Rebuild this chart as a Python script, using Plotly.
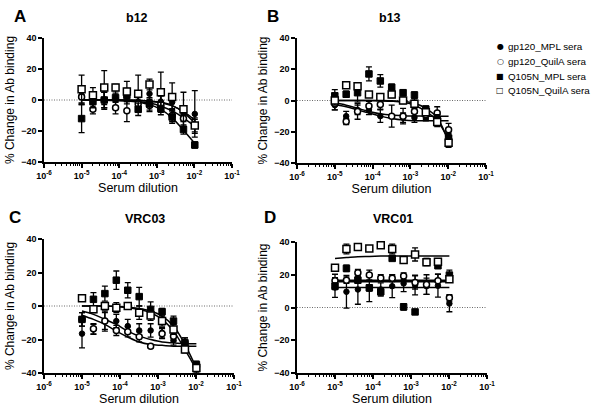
import plotly.graph_objects as go

# ---------------- data ----------------
dilutions = [1e-5, 2e-5, 4e-5, 8e-5, 1.6e-4, 3.2e-4, 6.4e-4, 1.28e-3, 2.56e-3, 5.12e-3, 1.024e-2]
series_names = ["gp120_MPL sera", "gp120_QuilA sera", "Q105N_MPL sera", "Q105N_QuilA sera"]
legend_glyphs = ["\u25CF", "\u25CB", "\u25A0", "\u25A1"]
panel_titles = ["b12", "b13", "VRC03", "VRC01"]
panel_letters = ["A", "B", "C", "D"]
x_tick_vals = [1e-6, 1e-5, 1e-4, 1e-3, 1e-2, 1e-1]
x_tick_text = ["10<sup>-6</sup>", "10<sup>-5</sup>", "10<sup>-4</sup>", "10<sup>-3</sup>", "10<sup>-2</sup>", "10<sup>-1</sup>"]
y_tick_vals = [-40, -20, 0, 20, 40]

# b12
b12_gp120_mpl = [3, -1, 0, 1, 2.5, -1, 4, -1, -1.5, -9, -9]
b12_gp120_mpl_err = [5, 4, 6, 5, 5, 4, 5, 5, 4, 5, 15]
b12_gp120_quila = [2, -6, 0, -5, -7, -2.5, -3.5, -2.5, -10, -12, -16.5]
b12_gp120_quila_err = [5, 3, 5, 4, 7, 4, 4, 5, 4, 5, 5]
b12_q105n_mpl = [-12, -1, 0, 1.5, 3, -6, -2.5, -5.5, -11, -19, -29]
b12_q105n_mpl_err = [9, 4, 5, 3, 4, 4, 4, 4, 4, 3, 2]
b12_q105n_quila = [7, 3, 8, 8, 5.5, 4, 10, 5, 2, -6, -16.5]
b12_q105n_quila_err = [9, 5, 11, 2, 6.5, 12, 3.5, 13, 9, 11, 4]
b12_fit_gp120_mpl = [0, 0, 0, 0, 0, -0.3, -0.8, -1.8, -3.8, -7.5, -13]
b12_fit_gp120_quila = [0, 0, 0, -0.2, -0.5, -1, -2, -4, -7, -11.5, -17]
b12_fit_q105n_mpl = [0, 0, -0.1, -0.3, -0.7, -1.5, -3, -6, -11.5, -19.5, -28]
b12_fit_q105n_quila = [0, 0, 0, 0, 0, -0.2, -0.6, -1.5, -3.5, -8, -15]

# b13
b13_gp120_mpl = [-3, -10, -6, -6, -10, 7, -11, -11, -11, -12, -23]
b13_gp120_mpl_err = [3, 3, 3, 3, 4, 3, 3, 3, 2, 3, 3]
b13_gp120_quila = [-2, -13.5, -7, -3.5, -2.6, -10, -10, -7, -9, -8, -18.7]
b13_gp120_quila_err = [4, 2, 5, 3, 3, 7, 5, 3, 3, 4, 4]
b13_q105n_mpl = [3, 4, 5, 17, 12.5, 8.5, 5, 3.5, -5.5, -12, -24]
b13_q105n_mpl_err = [4, 2, 6, 4.5, 4, 2, 2, 2, 2, 3, 3]
b13_q105n_quila = [0, 9.8, 9.2, 3.9, 2.2, 3.9, 0, -2, -7.5, -13.7, -27]
b13_q105n_quila_err = [3, 1, 1.5, 1, 1, 2, 2, 3, 2, 3, 3]
b13_fit_gp120_mpl = [-2.5, -4, -6, -8, -10, -11.5, -12.5, -13, -13, -13, -13]
b13_fit_gp120_quila = [-1.5, -3, -5, -7, -8.5, -9.3, -9.7, -9.9, -10, -10, -10]
b13_fit_q105n_mpl = [0, 0, 0, 0, -0.2, -0.5, -1.2, -3, -7, -13, -25]
b13_fit_q105n_quila = [0, 0, 0, 0, 0, -0.2, -0.6, -1.8, -5, -11, -27]

# VRC03
vrc03_gp120_mpl = [-16.5, -14, -9, -9, -12, -14.6, -14.6, -16, -20.4, -24.4, -37]
vrc03_gp120_mpl_err = [8.5, 3, 5, 4, 4, 4, 4, 3, 3, 3, 3]
vrc03_gp120_quila = [-8, -13.6, -9, -14.6, -15.4, -18.4, -24, -16.5, -18, -22, -36]
vrc03_gp120_quila_err = [4, 3, 6, 3, 3, 3, 1, 3, 3, 3, 2]
vrc03_q105n_mpl = [-8, 4, 7.4, 15.4, 9.4, 5.6, -2, -3.4, -9, -22, -35]
vrc03_q105n_mpl_err = [4, 4, 4.5, 5.5, 4.5, 5.5, 4.5, 2, 3, 3, 2]
vrc03_q105n_quila = [4.6, -2, 0, -1, 0, -4, -5.6, -9, -14, -26, -37]
vrc03_q105n_quila_err = [1, 2, 2, 3, 1, 4, 3, 3, 3, 2, 1]
vrc03_fit_gp120_mpl = [-3, -5, -8, -11, -15, -18, -20, -21.5, -22, -22.5, -22.5]
vrc03_fit_gp120_quila = [-5.5, -8, -11, -15, -18.5, -21.5, -23, -23.5, -24, -24, -24]
vrc03_fit_q105n_mpl = [0, 0, 0, -0.3, -0.8, -1.5, -3, -6, -12, -23, -37]
vrc03_fit_q105n_quila = [0, 0, 0, -0.3, -1, -2, -4, -8, -15, -26, -38]

# VRC01
vrc01_gp120_mpl = [12.2, 9.6, 11, 11.6, 11, 13, 14.7, 13.7, 13, 13.3, 2.4]
vrc01_gp120_mpl_err = [6, 10, 9, 8, 4, 7, 5, 6, 5, 7, 5]
vrc01_gp120_quila = [16.3, 16.7, 21.2, 19.8, 18, 17.8, 19.2, 15.3, 14, 16.3, 5.9]
vrc01_gp120_quila_err = [4, 2, 2, 3, 2, 2, 2, 4, 6, 4, 2]
vrc01_q105n_mpl = [13, 23.9, 16.7, 12, 9.6, 30, 0.4, -2.7, 28, 25.5, 19.8]
vrc01_q105n_mpl_err = [2, 2, 2, 2, 2, 1, 2, 1, 2, 1, 3]
vrc01_q105n_quila = [24.3, 35.7, 37, 36, 38, 35.7, 29, 32.4, 27.6, 28, 17.3]
vrc01_q105n_quila_err = [1, 3, 1, 1, 1, 3, 1, 4, 2, 1, 2]
vrc01_fit_gp120_mpl = [12.2, 12.2, 12.2, 12.2, 12.2, 12.2, 12.2, 12.2, 12.2, 12.2, 12.2]
vrc01_fit_gp120_quila = [16.7, 16.7, 16.7, 16.7, 16.7, 16.7, 16.7, 16.7, 16.7, 16.7, 16.7]
vrc01_fit_q105n_mpl = [15.7, 15.7, 15.7, 15.7, 15.7, 15.7, 15.7, 15.7, 15.7, 15.7, 15.7]
vrc01_fit_q105n_quila = [30, 30.5, 31, 31.2, 31.4, 31.5, 31.5, 31.5, 31.5, 31.5, 31.5]

panels = [
    ([b12_gp120_mpl, b12_gp120_quila, b12_q105n_mpl, b12_q105n_quila],
     [b12_gp120_mpl_err, b12_gp120_quila_err, b12_q105n_mpl_err, b12_q105n_quila_err],
     [b12_fit_gp120_mpl, b12_fit_gp120_quila, b12_fit_q105n_mpl, b12_fit_q105n_quila]),
    ([b13_gp120_mpl, b13_gp120_quila, b13_q105n_mpl, b13_q105n_quila],
     [b13_gp120_mpl_err, b13_gp120_quila_err, b13_q105n_mpl_err, b13_q105n_quila_err],
     [b13_fit_gp120_mpl, b13_fit_gp120_quila, b13_fit_q105n_mpl, b13_fit_q105n_quila]),
    ([vrc03_gp120_mpl, vrc03_gp120_quila, vrc03_q105n_mpl, vrc03_q105n_quila],
     [vrc03_gp120_mpl_err, vrc03_gp120_quila_err, vrc03_q105n_mpl_err, vrc03_q105n_quila_err],
     [vrc03_fit_gp120_mpl, vrc03_fit_gp120_quila, vrc03_fit_q105n_mpl, vrc03_fit_q105n_quila]),
    ([vrc01_gp120_mpl, vrc01_gp120_quila, vrc01_q105n_mpl, vrc01_q105n_quila],
     [vrc01_gp120_mpl_err, vrc01_gp120_quila_err, vrc01_q105n_mpl_err, vrc01_q105n_quila_err],
     [vrc01_fit_gp120_mpl, vrc01_fit_gp120_quila, vrc01_fit_q105n_mpl, vrc01_fit_q105n_quila]),
]

# ---------------- styling ----------------
W, H = 601, 413
FONT = "Arial, Liberation Sans, sans-serif"
marker_styles = [
    dict(symbol="circle", size=5.5, color="black", line=dict(color="black", width=1)),
    dict(symbol="circle", size=6, color="white", line=dict(color="black", width=1.5)),
    dict(symbol="square", size=6.5, color="black", line=dict(color="black", width=1)),
    dict(symbol="square", size=7, color="white", line=dict(color="black", width=1.5)),
]
# plot areas in pixels: (left, right, top, bottom)
boxes = [(44, 232, 38, 162), (297, 486, 38, 163), (44, 234, 239, 373), (297, 487, 242, 373)]

fig = go.Figure()
minor_vals = [k * 10 ** e for e in range(-6, -1) for k in range(2, 10)]

for i, (vals, errs, fits) in enumerate(panels):
    ax = "" if i == 0 else str(i + 1)
    xa, ya = "x" + ax, "y" + ax
    for f in fits:
        fig.add_trace(go.Scatter(x=dilutions, y=f, mode="lines", xaxis=xa, yaxis=ya,
                                 line=dict(color="black", width=1.5, shape="spline", smoothing=1.0),
                                 showlegend=False, hoverinfo="skip"))
    for s in range(4):
        fig.add_trace(go.Scatter(x=dilutions, y=vals[s], mode="markers", xaxis=xa, yaxis=ya,
                                 name=series_names[s], marker=marker_styles[s],
                                 error_y=dict(type="data", array=errs[s], visible=True,
                                              color="black", thickness=1.3, width=3),
                                 showlegend=False, cliponaxis=False))
    l, r, t, b = boxes[i]
    fig.update_layout(**{
        "xaxis" + ax: dict(domain=[l / W, r / W], anchor=ya, type="log", range=[-6, -1],
                            automargin=False,
                            tickvals=x_tick_vals, ticktext=x_tick_text, ticks="outside",
                            ticklen=4, tickwidth=1.5, tickcolor="black", showline=True,
                            linewidth=1.5, linecolor="black", showgrid=False, zeroline=False,
                            tickfont=dict(family=FONT, size=9, color="black", weight="bold"),
                            minor=dict(tickvals=minor_vals, ticks="outside", ticklen=2.5,
                                       tickwidth=1, tickcolor="black", showgrid=False),
                            title=dict(text="Serum dilution", standoff=4,
                                       font=dict(family=FONT, size=12.5, color="black"))),
        "yaxis" + ax: dict(domain=[1 - b / H, 1 - t / H], anchor=xa, range=[-40, 40],
                            automargin=False,
                            tickvals=y_tick_vals, ticks="outside", ticklen=4, tickwidth=1.5,
                            tickcolor="black", showline=True, linewidth=1.5, linecolor="black",
                            showgrid=False, zeroline=False,
                            tickfont=dict(family=FONT, size=9, color="black", weight="bold"),
                            title=dict(text="% Change in Ab binding", standoff=4,
                                       font=dict(family=FONT, size=12, color="black"))),
    })
    fig.add_shape(type="line", xref=xa + " domain", yref=ya, x0=0, x1=1, y0=0, y1=0,
                  line=dict(color="#444444", width=0.8, dash="1px,1.5px"), layer="below")

# panel titles and letters
title_pos = [(137, 18), (390, 18), (145, 219), (393, 219)]
letter_pos = [(20, 17), (273, 17), (15, 218), (270, 218)]
for i in range(4):
    fig.add_annotation(x=title_pos[i][0] / W, y=1 - title_pos[i][1] / H, xref="paper", yref="paper",
                       xanchor="center", yanchor="middle",
                       text="<b>%s</b>" % panel_titles[i], showarrow=False,
                       font=dict(family=FONT, size=12.5, color="black"))
    fig.add_annotation(x=letter_pos[i][0] / W, y=1 - letter_pos[i][1] / H, xref="paper", yref="paper",
                       xanchor="center", yanchor="middle",
                       text="<b>%s</b>" % panel_letters[i], showarrow=False,
                       font=dict(family=FONT, size=17, color="black"))

# legend (symbol + label rows)
legend_y = [47, 61.5, 76, 90.5]
for s in range(4):
    fig.add_annotation(x=500 / W, y=1 - legend_y[s] / H, xref="paper", yref="paper",
                       text=legend_glyphs[s], showarrow=False, xanchor="center", yanchor="middle",
                       font=dict(family="DejaVu Sans", size=8, color="black"))
    fig.add_annotation(x=506 / W, y=1 - legend_y[s] / H, xref="paper", yref="paper",
                       text=series_names[s], showarrow=False, xanchor="left", yanchor="middle",
                       font=dict(family=FONT, size=9.8, color="black"))

fig.update_layout(
    width=W, height=H, margin=dict(l=0, r=0, t=0, b=0, autoexpand=False),
    paper_bgcolor="white", plot_bgcolor="white",
    showlegend=False,
)

fig.write_html("out.html", config={"displayModeBar": False},
               post_script="document.body.style.margin='0px';")
